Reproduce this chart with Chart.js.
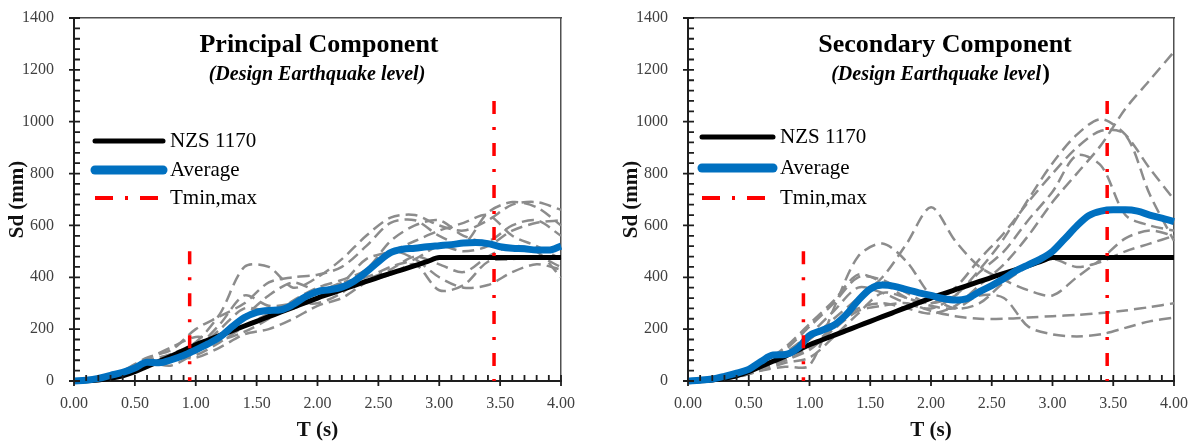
<!DOCTYPE html>
<html>
<head>
<meta charset="utf-8">
<title>Sd spectra - Design Earthquake level</title>
<script src="https://cdn.jsdelivr.net/npm/chart.js"></script>
<style>
  body { margin: 0; background: #fff; }
  .wrap { display: flex; width: 1192px; height: 443px; }
  canvas { display: block; }
</style>
</head>
<body>
<div class="wrap">
  <canvas id="principal" width="596" height="443"></canvas>
  <canvas id="secondary" width="596" height="443"></canvas>
</div>
<script>
// periods (s)
const T_FINE = [0,0.1,0.2,0.3,0.4,0.5,0.6,0.7,0.8,0.9,1,1.1,1.2,1.3,1.4,1.5,1.6,1.7,1.8,1.9,2,
                2.1,2.2,2.3,2.4,2.5,2.6,2.7,2.8,2.9,3,3.1,3.2,3.3,3.4,3.5,3.6,3.7,3.8,3.9,4];
const T_COARSE = [0,0.2,0.4,0.6,0.8,1,1.2,1.4,1.6,1.8,2,2.2,2.4,2.6,2.8,3,3.2,3.4,3.6,3.8,4];

// NZS 1170 design spectrum (mm), on T_FINE
const nzs1170 = [0,1,4,10,20,36,56,76,96,118, 140,158,176,194,212,230,248,266,284,302,
                 320,336,352,368,384,400,415,430,445,460, 476,476,476,476,476,476,476,476,476,476,476];

// averages (mm), on T_FINE
const avgPrincipal = [0,3,10,22,33,50,72,70,82,98, 120,143,170,210,245,265,272,275,295,325,
                      345,352,362,385,420,460,495,508,512,518, 522,526,532,534,530,518,512,510,505,505,520];
const avgSecondary = [0,3,8,18,30,45,75,100,102,125, 175,195,215,255,310,355,370,365,352,340,
                      330,318,312,318,345,368,395,425,448,470, 500,548,598,638,655,660,660,655,640,628,615];

// scaled records (mm), on T_COARSE
const principalRecords = [
  [0,8,30,75,105,150,260,440,440,360,400,470,560,630,640,600,580,620,680,690,660],
  [0,10,40,90,120,200,250,300,380,400,410,440,520,610,620,560,530,650,690,670,600],
  [0,8,35,70,60,110,180,250,330,380,350,380,470,500,540,580,610,640,560,520,470],
  [0,6,28,60,85,100,150,210,260,300,300,340,420,500,470,400,360,370,420,450,430],
  [0,8,32,80,100,130,220,330,290,300,340,380,400,440,470,520,500,520,580,610,620],
  [0,6,30,65,90,90,130,180,200,240,290,320,380,410,450,350,370,460,470,480,440],
  [0,10,35,85,130,170,160,190,240,310,360,390,430,540,600,620,560,540,600,620,560],
  [0,7,25,60,75,120,200,280,270,280,320,350,390,430,480,450,420,480,520,500,400]
];
const secondaryRecords = [
  [0,6,25,55,100,160,240,320,400,530,670,540,440,390,350,330,400,470,550,580,560],
  [0,5,20,50,80,130,210,280,300,280,260,290,370,450,560,690,800,910,1050,1160,1270],
  [0,6,25,60,110,180,270,360,340,300,280,330,430,550,700,840,950,1010,950,820,700],
  [0,5,22,55,120,210,300,400,390,340,300,360,470,570,690,800,900,965,950,720,540],
  [0,6,22,65,130,220,310,410,380,320,300,330,420,500,620,730,870,830,640,600,580],
  [0,5,20,50,80,120,200,270,290,300,270,250,240,240,245,250,255,262,272,285,300],
  [0,4,15,40,70,90,170,260,340,320,290,280,330,320,210,180,172,180,205,230,245],
  [0,4,15,40,55,60,280,480,530,460,330,280,300,380,440,470,440,460,500,530,560]
];

// Tmin / Tmax markers
const tBounds = [0.95, 3.45];
const tBoundTops = [500, 1080];

const SERIF = '"Liberation Serif", "Times New Roman", serif';

const pts = (xs, ys) => xs.map((t, i) => ({ x: t, y: ys[i] }));

function buildDatasets(avg, records) {
  const ds = records.map(r => ({
    data: pts(T_COARSE, r),
    borderColor: '#8c8c8c',
    borderWidth: 2.5,
    borderDash: [12, 6],
    tension: 0.3,
    order: 4
  }));
  ds.push({ label: 'NZS 1170', data: pts(T_FINE, nzs1170), borderColor: '#000000',
            borderWidth: 5, cubicInterpolationMode: 'monotone', order: 3 });
  ds.push({ label: 'Average', data: pts(T_FINE, avg), borderColor: '#0070C0',
            borderWidth: 7, cubicInterpolationMode: 'monotone', order: 2 });
  tBounds.forEach((t, i) => ds.push({
    label: i === 0 ? 'Tmin,max' : '',
    data: [{ x: t, y: tBoundTops[i] }, { x: t, y: 0 }],
    borderColor: '#ff0000', borderWidth: 3.5, borderDash: [13, 13, 3, 13], order: 1
  }));
  return ds;
}

// tick marks: major ones cross the axis, minor ones point inward
function drawTicks(chart) {
  const ctx = chart.ctx;
  const xs = chart.scales.x, ys = chart.scales.y;
  const L = xs.left, B = ys.bottom;
  ctx.save();
  ctx.setLineDash([]);
  ctx.strokeStyle = '#1e1e1e';
  ctx.lineCap = 'butt';
  ctx.lineWidth = 1.8;
  ctx.beginPath();
  for (let k = 0; k <= 35; k++) {
    const py = ys.getPixelForValue(k * 40);
    const major = k % 5 === 0;
    ctx.moveTo(L - (major ? 5 : 0), py);
    ctx.lineTo(L + 6, py);
  }
  for (let k = 0; k <= 40; k++) {
    const px = xs.getPixelForValue(k / 10);
    const major = k % 5 === 0;
    ctx.moveTo(px, B - 6);
    ctx.lineTo(px, B + (major ? 5 : 0));
  }
  ctx.stroke();
  ctx.restore();
}

// titles, legend and ticks drawn over the chart
const decor = {
  id: 'decor',
  afterDraw(chart, args, o) {
    const ctx = chart.ctx;
    ctx.save();
    ctx.fillStyle = '#000';
    ctx.textBaseline = 'alphabetic';
    ctx.textAlign = 'center';
    ctx.font = 'bold 26px ' + SERIF;
    ctx.fillText(o.title, o.titleX, 52);

    ctx.font = 'italic bold 20px ' + SERIF;
    if (o.uprightParen) {
      const main = '(Design Earthquake level';
      const w1 = ctx.measureText(main).width;
      ctx.font = 'bold 23px ' + SERIF;
      const w2 = ctx.measureText(')').width;
      const x0 = o.subX - (w1 + w2) / 2;
      ctx.textAlign = 'left';
      ctx.font = 'italic bold 20px ' + SERIF;
      ctx.fillText(main, x0, 80);
      ctx.font = 'bold 23px ' + SERIF;
      ctx.fillText(')', x0 + w1 + 1, 80);
    } else {
      ctx.fillText('(Design Earthquake level)', o.subX, 80);
    }

    // legend
    const items = chart.data.datasets.filter(d => d.label);
    ctx.textAlign = 'left';
    ctx.font = '21px ' + SERIF;
    items.forEach((d, i) => {
      const ly = o.legendY[i];
      ctx.beginPath();
      ctx.strokeStyle = d.borderColor;
      if (d.borderColor === '#ff0000') {
        ctx.lineWidth = 4;
        ctx.lineCap = 'butt';
        ctx.setLineDash([18, 12, 3, 12]);
      } else {
        ctx.lineWidth = d.label === 'Average' ? 9 : 5;
        ctx.lineCap = 'round';
        ctx.setLineDash([]);
      }
      ctx.moveTo(o.legendX, ly);
      ctx.lineTo(o.legendX + o.legendLen, ly);
      ctx.stroke();
      ctx.setLineDash([]);
      ctx.fillStyle = '#000';
      ctx.fillText(d.label, o.legendX + o.legendLen + 7, ly + 6);
    });
    ctx.restore();

    drawTicks(chart);
  }
};

// border-only scales closing the box on top and right
const edgeScale = (position) => ({
  type: 'linear', position, display: true,
  grid: { display: false },
  border: { display: true, color: '#505050', width: 1.5 },
  ticks: { display: false },
  afterFit: s => {
    if (position === 'top') s.height = 0; else s.width = 0;
    s.paddingLeft = s.paddingRight = s.paddingTop = s.paddingBottom = 0;
  }
});

function makeChart(id, avg, records, yWidth, padRight, yTitlePad, deco) {
  return new Chart(document.getElementById(id), {
    type: 'line',
    data: { datasets: buildDatasets(avg, records) },
    plugins: [decor],
    options: {
      responsive: false,
      animation: false,
      devicePixelRatio: 1,
      layout: { padding: { top: 18, right: padRight, left: 0, bottom: 0 } },
      elements: { point: { radius: 0 }, line: { borderCapStyle: 'butt' } },
      datasets: { line: { clip: false } },
      plugins: {
        legend: { display: false },
        tooltip: { enabled: false },
        decor: deco
      },
      scales: {
        x: {
          type: 'linear', min: 0, max: 4,
          grid: { display: false },
          border: { display: true, color: '#1e1e1e', width: 2 },
          ticks: { stepSize: 0.5, padding: 5, color: '#404040',
                   font: { family: SERIF, size: 16 },
                   callback: v => Number(v).toFixed(2) },
          title: { display: true, text: 'T (s)', color: '#111',
                   font: { family: SERIF, size: 21, weight: 'bold' },
                   padding: { top: 0, bottom: 0 } },
          afterFit: s => { s.height = 62; s.paddingLeft = 0; s.paddingRight = 0; }
        },
        y: {
          type: 'linear', min: 0, max: 1400,
          grid: { display: false },
          border: { display: true, color: '#1e1e1e', width: 2 },
          ticks: { stepSize: 200, padding: 12, color: '#404040',
                   font: { family: SERIF, size: 16 },
                   callback: v => String(v) },
          title: { display: true, text: 'Sd (mm)', color: '#111',
                   font: { family: SERIF, size: 21, weight: 'bold' },
                   padding: { top: yTitlePad, bottom: 0 } },
          afterFit: s => { s.width = yWidth; s.paddingTop = 0; s.paddingBottom = 0; }
        },
        xTop: edgeScale('top'),
        yRight: edgeScale('right')
      }
    }
  });
}

makeChart('principal', avgPrincipal, principalRecords, 74, 35, 5, {
  title: 'Principal Component', titleX: 319, subX: 317, uprightParen: false,
  legendX: 95, legendLen: 68, legendY: [141, 170, 198]
});
makeChart('secondary', avgSecondary, secondaryRecords, 92, 18, 23, {
  title: 'Secondary Component', titleX: 349, subX: 344, uprightParen: true,
  legendX: 106, legendLen: 71, legendY: [137, 168, 198]
});
</script>
</body>
</html>
